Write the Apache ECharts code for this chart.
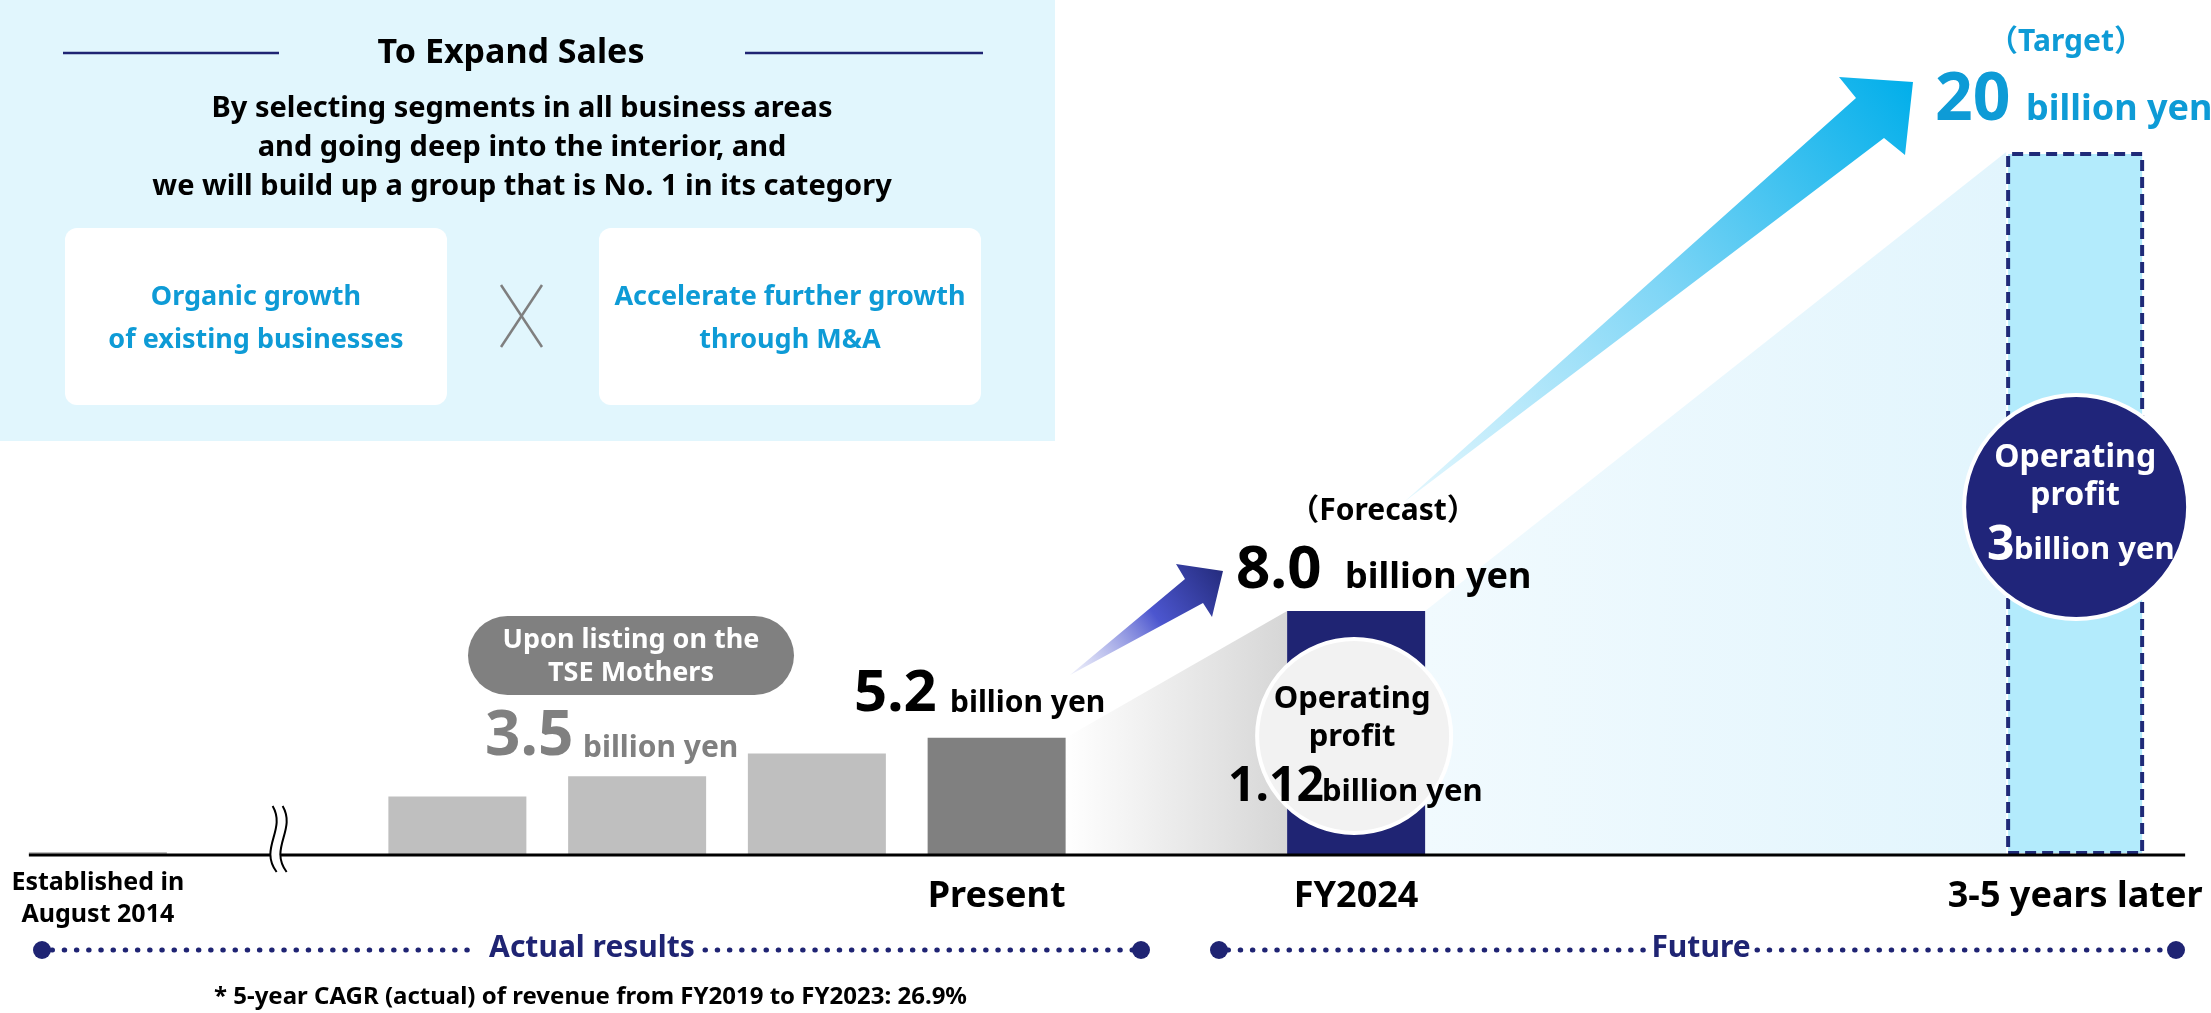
<!DOCTYPE html>
<html>
<head>
<meta charset="utf-8">
<title>To Expand Sales</title>
<script src="https://cdn.jsdelivr.net/npm/echarts@6/dist/echarts.min.js"></script>
<style>
  html, body { margin: 0; padding: 0; background: #fff; }
  #main { width: 2211px; height: 1013px; }
</style>
</head>
<body>
<div id="main"></div>
<script>
// categories along the time line (empty slots keep the spacing of the original)
var categories = ['Established in\nAugust 2014', '', '', '', '', 'Present', '', 'FY2024', '', '', '', '3-5 years later'];
// revenue, billion yen (actual / forecast / target)
var actualRevenue   = [0.13, null, 2.6, 3.5, 4.5, 5.2, null, null, null, null, null, null];
var forecastRevenue = [null, null, null, null, null, null, null, 8.0, null, null, null, null];
var targetRevenue   = [null, null, null, null, null, null, null, null, null, null, null, 20];
// operating profit, billion yen
var operatingProfit = [null, null, null, null, null, null, null, 1.12, null, null, null, 3];

var listingIndex = 3, presentIndex = 5, forecastIndex = 7, targetIndex = 11;

var FONT = '"Noto Sans", "Noto Sans CJK JP", sans-serif';
var NAVY = '#1f2473';
var CYAN = '#0e9bd6';

function f(size) { return 'bold ' + size + 'px ' + FONT; }
function toBar(arr) { return arr.map(function (v) { return v == null ? '-' : v; }); }

var chart = echarts.init(document.getElementById('main'));

var option = {
  animation: false,
  backgroundColor: '#ffffff',
  textStyle: { fontFamily: FONT },
  grid: { left: 8, right: 46, top: 152, bottom: 158, containLabel: false },
  xAxis: {
    type: 'category',
    data: categories,
    axisLine: { show: false },
    axisTick: { show: false },
    axisLabel: {
      interval: 0,
      margin: 12,
      formatter: function (v, i) {
        if (!v) return '';
        if (i === 0) {
          return v.split('\n').map(function (s) { return '{s|' + s + '}'; }).join('\n');
        }
        return '{b|' + v + '}';
      },
      rich: {
        s: { fontSize: 25, fontWeight: 'bold', lineHeight: 32, color: '#000', fontFamily: FONT },
        b: { fontSize: 36, fontWeight: 'bold', lineHeight: 60, color: '#000', fontFamily: FONT }
      }
    }
  },
  yAxis: [
    { type: 'value', show: false, min: 0, max: 31.2 },
    { type: 'value', show: false, min: 0, max: 23.05 },
    { type: 'value', show: false, min: 0, max: 20 }
  ],
  series: [
    {
      name: 'Actual', type: 'bar', yAxisIndex: 0, barWidth: 138, barGap: '-100%', silent: true,
      data: actualRevenue.map(function (v, i) {
        return v == null ? '-' : { value: v, itemStyle: { color: i === presentIndex ? '#808080' : '#bfbfbf' } };
      })
    },
    {
      name: 'Forecast', type: 'bar', yAxisIndex: 1, barWidth: 138, barGap: '-100%', silent: true,
      itemStyle: { color: NAVY },
      data: toBar(forecastRevenue)
    },
    {
      name: 'Target', type: 'bar', yAxisIndex: 2, barWidth: 138, barGap: '-100%', silent: true,
      itemStyle: { color: '#b3ebfc', borderColor: '#1f2a78', borderWidth: 4, borderType: [11, 6] },
      data: toBar(targetRevenue)
    }
  ]
};
chart.setOption(option);

// pixel anchors taken from the chart's own scales
var half = 69;
var pEst = chart.convertToPixel({ seriesIndex: 0 }, [0, 0]);
var base = pEst[1];
var pPresent = chart.convertToPixel({ seriesIndex: 0 }, [presentIndex, actualRevenue[presentIndex]]);
var pForecast = chart.convertToPixel({ seriesIndex: 1 }, [forecastIndex, forecastRevenue[forecastIndex]]);
var pTarget = chart.convertToPixel({ seriesIndex: 2 }, [targetIndex, targetRevenue[targetIndex]]);
var pBreak = chart.convertToPixel({ seriesIndex: 0 }, [1, 0]);

function txt(x, y, s, size, color, align, z) {
  return { type: 'text', x: x, y: y, z: z || 20, silent: true,
    style: { text: s, font: f(size), fill: color, textAlign: align || 'center', textVerticalAlign: 'middle' } };
}
function dots(x1, x2, y) {
  return { type: 'line', z: 20, silent: true, shape: { x1: x1, y1: y, x2: x2, y2: y },
    style: { stroke: NAVY, lineWidth: 5, lineDash: [0.5, 11.7], lineCap: 'round' } };
}
function bigDot(x, y) {
  return { type: 'circle', z: 20, silent: true, shape: { cx: x, cy: y, r: 9 }, style: { fill: NAVY } };
}
function breakCurve(x, color, w) {
  return { type: 'bezierCurve', z: 6, silent: true,
    shape: { x1: x, y1: 806, cpx1: x + 14, cpy1: 830, cpx2: x - 14, cpy2: 848, x2: x + 4, y2: 872 },
    style: { stroke: color, lineWidth: w, fill: null } };
}

var g = [];

// top-left message panel
g.push({ type: 'rect', z: 0, silent: true, shape: { x: 0, y: 0, width: 1055, height: 441 }, style: { fill: '#e1f6fd' } });
g.push({ type: 'line', z: 1, silent: true, shape: { x1: 63, y1: 53, x2: 279, y2: 53 }, style: { stroke: NAVY, lineWidth: 2.5 } });
g.push({ type: 'line', z: 1, silent: true, shape: { x1: 745, y1: 53, x2: 983, y2: 53 }, style: { stroke: NAVY, lineWidth: 2.5 } });
g.push(txt(511, 53, 'To Expand Sales', 34, '#000'));
g.push(txt(522, 109, 'By selecting segments in all business areas', 29, '#000'));
g.push(txt(522, 148, 'and going deep into the interior, and', 29, '#000'));
g.push(txt(522, 187, 'we will build up a group that is No. 1 in its category', 29, '#000'));
g.push({ type: 'rect', z: 1, silent: true, shape: { x: 65, y: 228, width: 382, height: 177, r: 12 }, style: { fill: '#ffffff' } });
g.push({ type: 'rect', z: 1, silent: true, shape: { x: 599, y: 228, width: 382, height: 177, r: 12 }, style: { fill: '#ffffff' } });
g.push(txt(256, 297, 'Organic growth', 27, CYAN));
g.push(txt(256, 340, 'of existing businesses', 27, CYAN));
g.push(txt(790, 297, 'Accelerate further growth', 27, CYAN));
g.push(txt(790, 340, 'through M&A', 27, CYAN));
g.push({ type: 'line', z: 1, silent: true, shape: { x1: 501, y1: 285, x2: 542, y2: 347 }, style: { stroke: '#7f7f7f', lineWidth: 2.5 } });
g.push({ type: 'line', z: 1, silent: true, shape: { x1: 542, y1: 285, x2: 501, y2: 347 }, style: { stroke: '#7f7f7f', lineWidth: 2.5 } });

// growth shading between bar tops
g.push({ type: 'polygon', z: 1, silent: true,
  shape: { points: [[pPresent[0] + half, pPresent[1]], [pForecast[0] - half, pForecast[1]], [pForecast[0] - half, base], [pPresent[0] + half, base]] },
  style: { fill: { type: 'linear', x: 0, y: 0, x2: 1, y2: 0, colorStops: [{ offset: 0, color: '#ffffff' }, { offset: 1, color: '#d6d6d6' }] } } });
g.push({ type: 'polygon', z: 1, silent: true,
  shape: { points: [[pForecast[0] + half, pForecast[1]], [pTarget[0] - half, pTarget[1]], [pTarget[0] - half, base], [pForecast[0] + half, base]] },
  style: { fill: { type: 'linear', x: 0, y: 0, x2: 1, y2: 0, colorStops: [{ offset: 0, color: '#f1fafe' }, { offset: 1, color: '#e2f5fd' }] } } });

// arrows
g.push({ type: 'polygon', z: 3, silent: true,
  shape: { points: [[1070, 675], [1185, 579], [1176, 564], [1223, 571], [1212, 617], [1203, 603]] },
  style: { fill: { type: 'linear', x: 0, y: 1, x2: 1, y2: 0, colorStops: [{ offset: 0, color: 'rgba(220,223,246,0.5)' }, { offset: 0.55, color: '#4c56cf' }, { offset: 1, color: '#232a7a' }] } } });
g.push({ type: 'polygon', z: 3, silent: true,
  shape: { points: [[1404, 502], [1856, 98], [1839, 77], [1913, 82], [1905, 155], [1884, 138]] },
  style: { fill: { type: 'linear', x: 0, y: 1, x2: 1, y2: 0, colorStops: [{ offset: 0, color: '#e6f8fe' }, { offset: 0.5, color: '#80d6f6' }, { offset: 1, color: '#00aeea' }] } } });

// baseline and break mark
g.push({ type: 'line', z: 5, silent: true, shape: { x1: pEst[0] - half, y1: base, x2: pTarget[0] + 110, y2: base }, style: { stroke: '#000', lineWidth: 3 } });
g.push(breakCurve(pBreak[0], '#ffffff', 9));
g.push(breakCurve(pBreak[0] - 5, '#000', 2));
g.push(breakCurve(pBreak[0] + 5, '#000', 2));

// listing pill
g.push({ type: 'rect', z: 4, silent: true, shape: { x: 468, y: 616, width: 326, height: 79, r: 39.5 }, style: { fill: '#808080' } });
g.push(txt(631, 640, 'Upon listing on the', 27, '#fff'));
g.push(txt(631, 673, 'TSE Mothers', 27, '#fff'));

// value labels
g.push(txt(485, 737, actualRevenue[listingIndex].toFixed(1), 62, '#808080', 'left'));
g.push(txt(583, 748, 'billion yen', 30, '#808080', 'left'));
g.push(txt(854, 694, actualRevenue[presentIndex].toFixed(1), 58, '#000', 'left'));
g.push(txt(950, 703, 'billion yen', 30, '#000', 'left'));
g.push(txt(1383, 511, '（Forecast）', 30, '#000'));
g.push(txt(1236, 571, forecastRevenue[forecastIndex].toFixed(1), 60, '#000', 'left'));
g.push(txt(1345, 578, 'billion yen', 36, '#000', 'left'));
g.push(txt(2066, 42, '（Target）', 30, CYAN));
g.push(txt(1935, 101, String(targetRevenue[targetIndex]), 66, CYAN, 'left'));
g.push(txt(2026, 110, 'billion yen', 36, CYAN, 'left'));

// operating profit circles
g.push({ type: 'circle', z: 8, silent: true, shape: { cx: pForecast[0] - 2, cy: 736, r: 97 }, style: { fill: '#f2f2f2', stroke: '#ffffff', lineWidth: 4 } });
g.push(txt(pForecast[0] - 4, 699, 'Operating', 31, '#000'));
g.push(txt(pForecast[0] - 4, 737, 'profit', 31, '#000'));
g.push(txt(1228, 787, String(operatingProfit[forecastIndex]), 48, '#000', 'left'));
g.push(txt(1322, 792, 'billion yen', 31, '#000', 'left'));

g.push({ type: 'circle', z: 8, silent: true, shape: { cx: pTarget[0] + 1, cy: 507, r: 112 }, style: { fill: '#20257a', stroke: '#ffffff', lineWidth: 4 } });
g.push(txt(pTarget[0], 458, 'Operating', 32, '#fff'));
g.push(txt(pTarget[0], 496, 'profit', 32, '#fff'));
g.push(txt(1987, 546, String(operatingProfit[targetIndex]), 48, '#fff', 'left'));
g.push(txt(2014, 550, 'billion yen', 31, '#fff', 'left'));

// period time lines
var ty = 950;
g.push(dots(52, 478, ty));
g.push(dots(705, 1132, ty));
g.push(bigDot(42, ty));
g.push(bigDot(1141, ty));
g.push(txt(592, 948, 'Actual results', 30, NAVY));
g.push(dots(1228, 1645, ty));
g.push(dots(1757, 2167, ty));
g.push(bigDot(1219, ty));
g.push(bigDot(2176, ty));
g.push(txt(1701, 948, 'Future', 30, NAVY));

// footnote
g.push(txt(214, 997, '* 5-year CAGR (actual) of revenue from FY2019 to FY2023: 26.9%', 24, '#000', 'left'));

chart.setOption({ graphic: { elements: g } });
</script>
</body>
</html>
